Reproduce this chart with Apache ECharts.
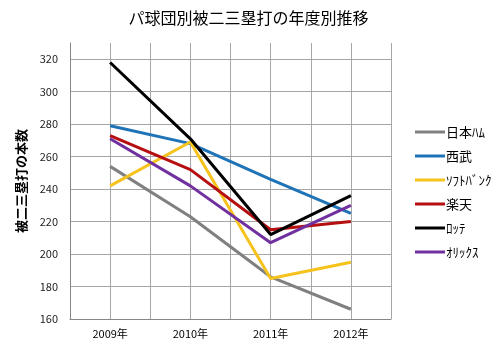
<!DOCTYPE html>
<html>
<head>
<meta charset="utf-8">
<script src="https://cdn.jsdelivr.net/npm/echarts@6/dist/echarts.min.js"></script>
<style>
  html,body{margin:0;padding:0;background:#fff}
  #main{width:497px;height:352px}
</style>
</head>
<body>
<div id="main"></div>
<script>
// 年度
const years = ['2009年', '2010年', '2011年', '2012年']
// 各球団の被二三塁打数
const nipponHam = [254, 223, 186, 166]
const seibu = [279, 268, 246, 225]
const softbank = [242, 269, 185, 195]
const rakuten = [273, 252, 215, 220]
const lotte = [318, 271, 212, 236]
const orix = [271, 242, 207, 230]

const teams = ['日本ﾊﾑ', '西武', 'ｿﾌﾄﾊﾞﾝｸ', '楽天', 'ﾛｯﾃ', 'ｵﾘｯｸｽ']
const teamData = [nipponHam, seibu, softbank, rakuten, lotte, orix]
const teamColors = ['#808080', '#1f74b8', '#f6c21c', '#b50f12', '#000000', '#7030a0']

const font = '"Noto Sans CJK JP", sans-serif'
const gridColor = '#a6a6a6'

const myChart = echarts.init(document.getElementById('main'))
myChart.setOption({
  animation: false,
  textStyle: { fontFamily: font },
  title: {
    text: 'パ球団別被二三塁打の年度別推移',
    left: 'center',
    top: 5,
    textStyle: { fontFamily: font, fontSize: 16, fontWeight: 'normal', color: '#000' }
  },
  legend: {
    orient: 'vertical',
    left: 410,
    top: 120,
    icon: 'rect',
    itemWidth: 30,
    itemHeight: 3,
    itemGap: 10,
    data: teams,
    textStyle: { fontFamily: font, fontSize: 13, color: '#000', lineHeight: 14, padding: [0, 0, 0, -4] }
  },
  grid: { left: 70, right: 106, top: 43, bottom: 33 },
  xAxis: [
    {
      type: 'category',
      data: years,
      boundaryGap: true,
      axisLine: { lineStyle: { color: '#868686', width: 1 } },
      axisTick: { show: false },
      axisLabel: { color: '#000', fontSize: 11, margin: 9, fontFamily: font },
      splitLine: { show: false }
    },
    {
      // 縦の目盛線用
      type: 'value',
      min: 0,
      max: 8,
      interval: 1,
      position: 'bottom',
      axisLine: { show: false },
      axisTick: { show: false },
      axisLabel: { show: false },
      splitLine: { show: true, lineStyle: { color: gridColor, width: 1 } }
    }
  ],
  yAxis: {
    type: 'value',
    min: 160,
    max: 330,
    interval: 20,
    name: '被二三塁打の本数',
    nameLocation: 'middle',
    nameGap: 42,
    nameRotate: 90,
    nameTextStyle: { fontFamily: font, fontSize: 13, fontWeight: 'bold', color: '#000' },
    axisLine: { show: true, lineStyle: { color: '#868686', width: 1 } },
    axisTick: { show: false },
    axisLabel: {
      color: '#222',
      fontSize: 11,
      margin: 12,
      fontFamily: font,
      formatter: v => (v % 20 === 0 ? String(v) : '')
    },
    splitLine: {
      show: true,
      lineStyle: {
        color: [gridColor, gridColor, gridColor, gridColor, gridColor, gridColor, gridColor, gridColor, gridColor, 'rgba(0,0,0,0)'],
        width: 1
      }
    }
  },
  series: teams.map((name, i) => ({
    name: name,
    type: 'line',
    xAxisIndex: 0,
    data: teamData[i],
    symbol: 'none',
    color: teamColors[i],
    lineStyle: { width: 3, color: teamColors[i] }
  }))
})
</script>
</body>
</html>
